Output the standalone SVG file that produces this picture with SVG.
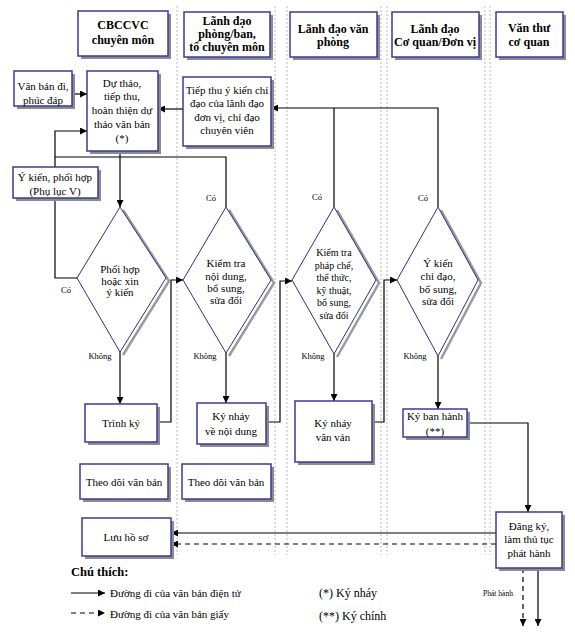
<svg xmlns="http://www.w3.org/2000/svg" width="575" height="638" viewBox="0 0 575 638">
<defs>
<marker id="ah" viewBox="0 0 10 10" refX="10" refY="5" markerWidth="7" markerHeight="7" markerUnits="userSpaceOnUse" orient="auto">
<path d="M0,0 L10,5 L0,10 z" fill="#000"/>
</marker>
</defs>
<style>
text{font-family:"Liberation Serif","Times New Roman",serif;fill:#000;text-anchor:middle}
.h{font-size:12px;font-weight:bold}
.t{font-size:11px}
.s{font-size:10px}
.lbl{font-size:8.5px}
.box{fill:#fff;stroke:#3a3a9a;stroke-width:1.5}
.sh{fill:#8c8c8c}
.dia{fill:#fff;stroke:#2e2e8c;stroke-width:1}
.dsh{fill:none;stroke:#9a9a9a;stroke-width:2.5}
.lane{stroke:#a8a8a8;stroke-width:0.8;stroke-dasharray:2,2;fill:none}
.c{fill:none;stroke:#000;stroke-width:1.2}
.ca{fill:none;stroke:#000;stroke-width:1.2;marker-end:url(#ah)}
.cd{fill:none;stroke:#000;stroke-width:1.2;stroke-dasharray:5,4;marker-end:url(#ah)}
</style>
<rect width="575" height="638" fill="#fff"/>
<g id="lanes">
<line class="lane" x1="177" y1="6" x2="177" y2="555"/>
<line class="lane" x1="275" y1="6" x2="275" y2="555"/>
<line class="lane" x1="287" y1="6" x2="287" y2="555"/>
<line class="lane" x1="381" y1="6" x2="381" y2="555"/>
<line class="lane" x1="387" y1="6" x2="387" y2="555"/>
<line class="lane" x1="485" y1="6" x2="485" y2="555"/>
<line class="lane" x1="490" y1="6" x2="490" y2="555"/>
</g>
<g id="headers">
<g id="h1"><rect class="sh" x="81" y="14" width="90" height="45"/><rect class="box" x="78" y="11" width="90" height="45"/><text class="h" x="123" y="29">CBCCVC</text><text class="h" x="123" y="44">chuyên môn</text></g>
<g id="h2"><rect class="sh" x="187" y="15" width="86" height="45"/><rect class="box" x="184" y="12" width="86" height="45"/><text class="h" x="227" y="25">Lãnh đạo</text><text class="h" x="227" y="38">phòng/ban,</text><text class="h" x="227" y="51">tổ chuyên môn</text></g>
<g id="h3"><rect class="sh" x="293" y="15" width="87" height="45"/><rect class="box" x="290" y="12" width="87" height="45"/><text class="h" x="333" y="33">Lãnh đạo văn</text><text class="h" x="333" y="46">phòng</text></g>
<g id="h4"><rect class="sh" x="395" y="15" width="87" height="45"/><rect class="box" x="392" y="12" width="87" height="45"/><text class="h" x="435" y="33">Lãnh đạo</text><text class="h" x="435" y="46">Cơ quan/Đơn vị</text></g>
<g id="h5"><rect class="sh" x="499" y="15" width="67" height="45"/><rect class="box" x="496" y="12" width="67" height="45"/><text class="h" x="529" y="32">Văn thư</text><text class="h" x="529" y="46">cơ quan</text></g>
</g>
<g id="connectors">
<path class="ca" d="M72,94 H87"/>
<path class="ca" d="M183,109 H158"/>
<path class="ca" d="M438,207 V108 H271"/>
<path class="c" d="M334,207 V108"/>
<path class="ca" d="M55,167 V131 H87"/>
<path class="c" d="M226,207 V157 H55"/>
<path class="c" d="M55,198 V278 H77"/>
<path class="ca" d="M120,151 V207"/>
<path class="ca" d="M120,352 V404"/>
<path class="ca" d="M157,422 H171 V280 H183"/>
<path class="ca" d="M226,353 V403"/>
<path class="ca" d="M266,422 H280 V281 H292"/>
<path class="ca" d="M334,354 V401"/>
<path class="ca" d="M372,422 H384 V280 H397"/>
<path class="ca" d="M438,356 V409"/>
<path class="ca" d="M467,423 H528 V512"/>
<path class="ca" d="M496,533 H171"/>
<path class="cd" d="M496,544 H171"/>
<path class="cd" d="M523,568 V626"/>
<path class="ca" d="M538,568 V626"/>
</g>
<g id="labels">
<text class="lbl" x="66" y="293">Có</text>
<text class="lbl" x="100" y="359">Không</text>
<text class="lbl" x="211" y="201">Có</text>
<text class="lbl" x="205" y="359">Không</text>
<text class="lbl" x="317" y="200">Có</text>
<text class="lbl" x="313" y="359">Không</text>
<text class="lbl" x="423" y="201">Có</text>
<text class="lbl" x="415" y="359">Không</text>
<text class="lbl" x="498" y="596" style="font-size:7.5px">Phát hành</text>
</g>
<g id="n-vanbandi"><rect class="sh" x="17" y="74" width="58" height="35"/><rect class="box" x="14" y="71" width="58" height="35"/><text class="t" x="43" y="90">Văn bản đi,</text><text class="t" x="43" y="104">phúc đáp</text></g>
<g id="n-duthao"><rect class="sh" x="90" y="74" width="71" height="80"/><rect class="box" x="87" y="71" width="71" height="80"/><text class="t" x="122" y="87">Dự thảo,</text><text class="t" x="122" y="100">tiếp thu,</text><text class="t" x="122" y="114">hoàn thiện dự</text><text class="t" x="122" y="128">thảo văn bản</text><text class="t" x="122" y="142">(*)</text></g>
<g id="n-tiepthu"><rect class="sh" x="186" y="80" width="88" height="69"/><rect class="box" x="183" y="77" width="88" height="69"/><text class="t" x="227" y="94">Tiếp thu ý kiến chỉ</text><text class="t" x="227" y="107">đạo của lãnh đạo</text><text class="t" x="227" y="121">đơn vị, chỉ đạo</text><text class="t" x="227" y="134">chuyên viên</text></g>
<g id="n-ykien"><rect class="sh" x="16" y="170" width="85" height="31"/><rect class="box" x="13" y="167" width="85" height="31"/><text class="t" x="55" y="181">Ý kiến, phối hợp</text><text class="t" x="55" y="195">(Phụ lục V)</text></g>
<g id="d1"><path class="dsh" d="M123,210 L169,281 L123,355"/><path class="dia" d="M120,207 L166,278 L120,352 L77,278 z"/><text class="t" x="120" y="273">Phối hợp</text><text class="t" x="120" y="285">hoặc xin</text><text class="t" x="120" y="296">ý kiến</text></g>
<g id="d2"><path class="dsh" d="M229,210 L274,283 L229,356"/><path class="dia" d="M226,207 L271,280 L226,353 L183,280 z"/><text class="t" x="226" y="267">Kiểm tra</text><text class="t" x="226" y="280">nội dung,</text><text class="t" x="226" y="292">bổ sung,</text><text class="t" x="226" y="304">sửa đổi</text></g>
<g id="d3"><path class="dsh" d="M337,210 L379,283 L337,357"/><path class="dia" d="M334,207 L376,280 L334,354 L292,280 z"/><text class="s" x="334" y="256">Kiểm tra</text><text class="s" x="334" y="269">pháp chế,</text><text class="s" x="334" y="281">thể thức,</text><text class="s" x="334" y="294">kỹ thuật,</text><text class="s" x="334" y="306">bổ sung,</text><text class="s" x="334" y="319">sửa đổi</text></g>
<g id="d4"><path class="dsh" d="M441,210 L481,283 L441,359"/><path class="dia" d="M438,207 L478,280 L438,356 L397,280 z"/><text class="t" x="438" y="267">Ý kiến</text><text class="t" x="438" y="280">chỉ đạo,</text><text class="t" x="438" y="293">bổ sung,</text><text class="t" x="438" y="305">sửa đổi</text></g>
<g id="n-trinhky"><rect class="sh" x="88" y="407" width="72" height="38"/><rect class="box" x="85" y="404" width="72" height="38"/><text class="t" x="121" y="427">Trình ký</text></g>
<g id="n-kynhay1"><rect class="sh" x="200" y="406" width="69" height="41"/><rect class="box" x="197" y="403" width="69" height="41"/><text class="t" x="231" y="420">Ký nháy</text><text class="t" x="231" y="435">về nội dung</text></g>
<g id="n-kynhay2"><rect class="sh" x="298" y="404" width="77" height="61"/><rect class="box" x="295" y="401" width="77" height="61"/><text class="t" x="333" y="427">Ký nháy</text><text class="t" x="333" y="441">văn vản</text></g>
<g id="n-kybanhanh"><rect class="sh" x="406" y="412" width="64" height="28"/><rect class="box" x="403" y="409" width="64" height="28"/><text class="t" x="435" y="420">Ký ban hành</text><text class="t" x="435" y="435">(**)</text></g>
<g id="n-theodoi1"><rect class="sh" x="83" y="467" width="88" height="35"/><rect class="box" x="80" y="464" width="88" height="35"/><text class="t" x="124" y="486">Theo dõi văn bản</text></g>
<g id="n-theodoi2"><rect class="sh" x="185" y="467" width="89" height="35"/><rect class="box" x="182" y="464" width="89" height="35"/><text class="t" x="226" y="486">Theo dõi văn bản</text></g>
<g id="n-luuhoso"><rect class="sh" x="85" y="521" width="89" height="38"/><rect class="box" x="82" y="518" width="89" height="38"/><text class="t" x="126" y="541">Lưu hồ sơ</text></g>
<g id="n-dangky"><rect class="sh" x="499" y="515" width="66" height="56"/><rect class="box" x="496" y="512" width="66" height="56"/><text class="t" x="529" y="530">Đăng ký,</text><text class="t" x="529" y="543">làm thủ tục</text><text class="t" x="529" y="557">phát hành</text></g>
<g id="legend">
<text x="71" y="576" style="font-size:12.5px;font-weight:bold;text-anchor:start">Chú thích:</text>
<path class="ca" d="M71,593 H105"/>
<text class="t" x="110" y="597" style="text-anchor:start">Đường đi của văn bản điện tử</text>
<path class="cd" d="M71,613 H105"/>
<text class="t" x="110" y="618" style="text-anchor:start">Đường đi của văn bản giấy</text>
<text x="319" y="597" style="font-size:12px;text-anchor:start">(*)  Ký nháy</text>
<text x="319" y="620" style="font-size:12px;text-anchor:start">(**)   Ký chính</text>
</g>
</svg>
